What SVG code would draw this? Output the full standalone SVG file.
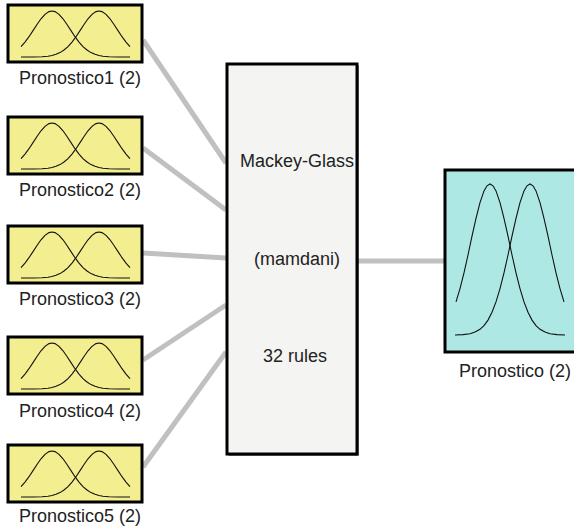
<svg xmlns="http://www.w3.org/2000/svg" xmlns:xlink="http://www.w3.org/1999/xlink" width="574" height="532" viewBox="0 0 574 532">
<style>
.in{fill:#f3ee8f;stroke:#000;stroke-width:3}
.mf{fill:none;stroke:#111;stroke-width:1.1}
.lbl{font-family:"Liberation Sans",Arial,sans-serif;font-size:18px;fill:#222;text-anchor:middle}
.conn{stroke:#c0c0c0;stroke-width:5;fill:none}
</style>
<defs>
<path id="c1" class="mf" d="M13,41.6 L17,37.1 L21,31.7 L25,25.6 L29,19.5 L33,13.8 L37,9.4 L41,6.6 L44,6 L47,6.6 L51,9.4 L55,13.8 L59,19.5 L63,25.6 L67,31.7 L71,37.1 L75,41.6 L79,45 L83,47.6 L87,49.3 L91,50.5 L95,51.2 L101,51.7 L110,51.95 L122,52"/>
<g id="inbox">
<rect class="in" x="0" y="0" width="134" height="57"/>
<use xlink:href="#c1"/>
<use xlink:href="#c1" transform="translate(135,0) scale(-1,1)"/>
</g>
<path id="oc1" class="mf" d="M456,301.9 L460,288.6 L464,272.8 L468,255 L472,236.2 L476,218.3 L480,202.6 L484,190.9 L487,185.8 L490,184 L493,185.8 L496,190.9 L500,202.6 L504,218.3 L508,236.2 L512,255 L516,272.8 L520,288.6 L524,301.9 L528,312.3 L532,320.1 L536,325.6 L540,329.3 L545,332.1 L550,333.7 L557,334.6 L565,335"/>
</defs>
<g id="connectors">
<line class="conn" x1="143" y1="40" x2="226" y2="163"/>
<line class="conn" x1="143" y1="148" x2="226" y2="210"/>
<line class="conn" x1="143" y1="253" x2="226" y2="258"/>
<line class="conn" x1="143" y1="360" x2="226" y2="305"/>
<line class="conn" x1="143" y1="467" x2="226" y2="352"/>
<line class="conn" x1="358" y1="261" x2="445" y2="261"/>
</g>
<g id="pronostico1">
<use xlink:href="#inbox" transform="translate(8,5)"/>
<text class="lbl" x="80" y="84">Pronostico1 (2)</text>
</g>
<g id="pronostico2">
<use xlink:href="#inbox" transform="translate(8,117)"/>
<text class="lbl" x="80" y="196">Pronostico2 (2)</text>
</g>
<g id="pronostico3">
<use xlink:href="#inbox" transform="translate(8,226)"/>
<text class="lbl" x="80" y="305">Pronostico3 (2)</text>
</g>
<g id="pronostico4">
<use xlink:href="#inbox" transform="translate(8,337)"/>
<text class="lbl" x="80" y="417">Pronostico4 (2)</text>
</g>
<g id="pronostico5">
<use xlink:href="#inbox" transform="translate(8,445)"/>
<text class="lbl" x="80" y="522">Pronostico5 (2)</text>
</g>
<g id="system">
<rect x="228.5" y="65.5" width="130" height="390" fill="#000"/>
<rect x="227" y="64" width="130" height="390" fill="#f4f4f2" stroke="#000" stroke-width="3"/>
<text class="lbl" x="297" y="167">Mackey-Glass</text>
<text class="lbl" x="297" y="265">(mamdani)</text>
<text class="lbl" x="295" y="362">32 rules</text>
</g>
<g id="pronostico">
<rect x="445" y="170" width="140" height="182" fill="#ade8e4" stroke="#000" stroke-width="3"/>
<use xlink:href="#oc1"/>
<use xlink:href="#oc1" transform="translate(1020,0) scale(-1,1)"/>
<text class="lbl" x="515" y="377">Pronostico (2)</text>
</g>
</svg>
